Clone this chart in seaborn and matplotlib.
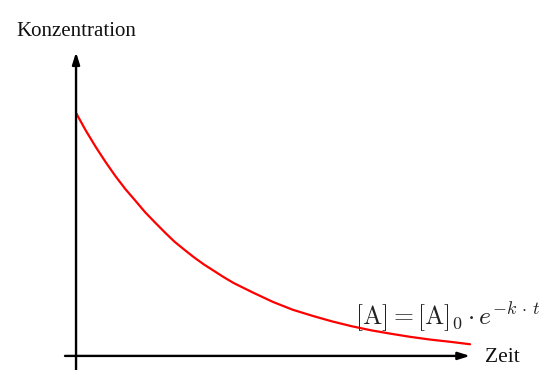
import numpy as np
import pandas as pd
import matplotlib
matplotlib.use("Agg")
import matplotlib.pyplot as plt
import seaborn as sns

# values (time in arbitrary units, concentration relative to [A]0)
zeit = [0, 0.25, 0.5, 0.75, 1, 1.25, 1.5, 1.75, 2, 2.25, 2.5, 2.75, 3, 3.25, 3.5, 3.75, 4,
        4.5, 5, 5.5, 6, 6.5, 7, 7.5, 8, 8.5, 9, 9.5, 10]
konz = [1.00, 0.927, 0.86, 0.798, 0.74, 0.687, 0.64, 0.592, 0.55, 0.509, 0.47, 0.437,
        0.405, 0.376, 0.35, 0.324, 0.30, 0.26, 0.222, 0.19, 0.165, 0.142, 0.122, 0.105,
        0.091, 0.078, 0.067, 0.058, 0.048]

y_label = "Konzentration"
x_label = "Zeit"
formel = r"$[\mathrm{A}] = [\mathrm{A}]_0 \cdot e^{-k\,\cdot\,t}$"

df = pd.DataFrame({"Zeit": zeit, "Konzentration": konz})

sns.set_style("white")
plt.rcParams["font.family"] = ["Liberation Serif", "DejaVu Serif"]
plt.rcParams["mathtext.fontset"] = "cm"

fig = plt.figure(figsize=(5.52, 3.70), dpi=100)
ax = fig.add_axes([0, 0, 1, 1])
ax.set_axis_off()
ax.set_xlim(-1.93, 12.08)
ax.set_ylim(-0.058, 1.465)

# axes with arrows
arrow = dict(arrowstyle="-|>,head_length=0.7,head_width=0.22", color="black",
             lw=1.7, shrinkA=0, shrinkB=0)
ax.annotate("", xy=(0, 1.25), xytext=(0, -0.06), arrowprops=arrow)
ax.annotate("", xy=(10.0, 0), xytext=(-0.28, 0), arrowprops=arrow)

sns.lineplot(data=df, x="Zeit", y="Konzentration", color="red", lw=1.6, ax=ax)
ax.set_axis_off()

fig.text(16 / 552, 1 - 31 / 370, y_label, fontsize=15, ha="left", va="center", color="#111111")
fig.text(485 / 552, 1 - 358 / 370, x_label, fontsize=15.5, ha="left", va="center", color="#111111")
fig.text(355 / 552, 1 - 325 / 370, formel, fontsize=18.5, ha="left", va="baseline", color="#222222")

fig.savefig("out.png", dpi=100)
